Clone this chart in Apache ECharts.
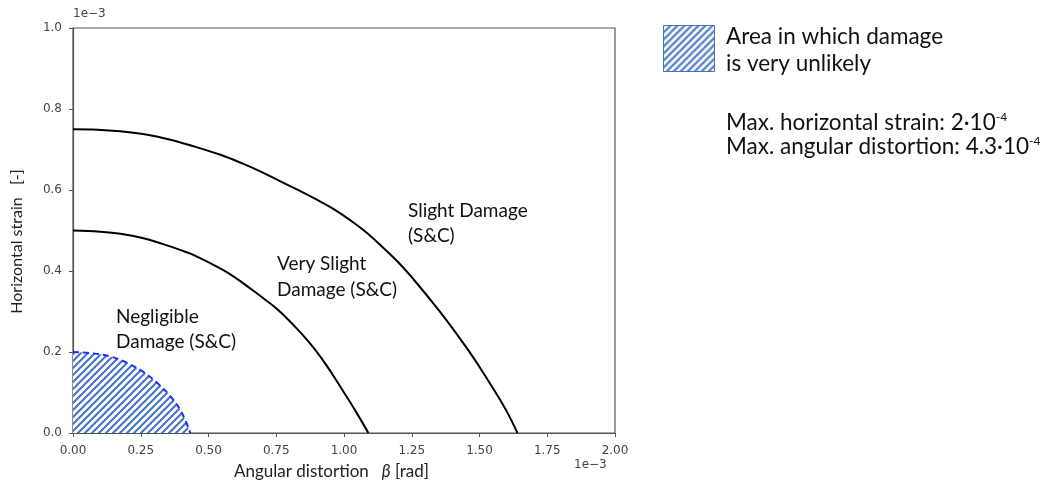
<!DOCTYPE html>
<html>
<head>
<meta charset="utf-8">
<script src="https://cdn.jsdelivr.net/npm/echarts@6/dist/echarts.min.js"></script>
<style>
  html, body { margin: 0; padding: 0; background: #fff; }
  #chart { width: 1050px; height: 482px; }
</style>
</head>
<body>
<div id="chart"></div>
<script>
// values are in units of 1e-3 (the axes show "1e−3")
var slightCurve = [[0, 0.75], [0.09, 0.749], [0.175, 0.745], [0.27, 0.737], [0.359, 0.724], [0.45, 0.707],
    [0.544, 0.687], [0.62, 0.667], [0.691, 0.646], [0.76, 0.623], [0.839, 0.597], [0.9, 0.576], [0.962, 0.553],
    [1.02, 0.527], [1.085, 0.494], [1.15, 0.454], [1.208, 0.416], [1.257, 0.379], [1.331, 0.319], [1.38, 0.277],
    [1.454, 0.209], [1.503, 0.16], [1.552, 0.108], [1.6, 0.054], [1.64, 0]];
var verySlightCurve = [[0, 0.5], [0.1, 0.497], [0.175, 0.492], [0.26, 0.481], [0.33, 0.467], [0.4, 0.451],
    [0.45, 0.438], [0.55, 0.404], [0.6, 0.383], [0.66, 0.354], [0.7, 0.334], [0.76, 0.302], [0.82, 0.262],
    [0.87, 0.225], [0.92, 0.182], [0.96, 0.142], [1.0, 0.1], [1.05, 0.046], [1.09, 0]];
var negligibleCurve = [[0, 0.2], [0.07, 0.197], [0.138, 0.189], [0.2, 0.173], [0.261, 0.15], [0.31, 0.124],
    [0.359, 0.091], [0.4, 0.052], [0.433, 0]];
var xTicks = ['0.00', '0.25', '0.50', '0.75', '1.00', '1.25', '1.50', '1.75', '2.00'];
var yTicks = ['0.0', '0.2', '0.4', '0.6', '0.8', '1.0'];

var calibri = 'Lato, "Open Sans", sans-serif';

// hatch pattern ////
function makeHatch(size, color, lw) {
    var c = document.createElement('canvas');
    c.width = size; c.height = size;
    var ctx = c.getContext('2d');
    ctx.fillStyle = '#fff';
    ctx.fillRect(0, 0, size, size);
    ctx.strokeStyle = color;
    ctx.lineWidth = lw;
    ctx.beginPath();
    ctx.moveTo(-1, size + 1); ctx.lineTo(size + 1, -1);
    ctx.moveTo(-2, 2); ctx.lineTo(2, -2);
    ctx.moveTo(size - 2, size + 2); ctx.lineTo(size + 2, size - 2);
    ctx.stroke();
    return c;
}
var hatch = makeHatch(7, '#4472c4', 2);

var myChart = echarts.init(document.getElementById('chart'));

option = {
    animation: false,
    grid: {
        left: 73,
        top: 28,
        width: 542,
        height: 405,
        outerBoundsMode: 'none',
        containLabel: false,
        show: true,
        borderColor: '#555',
        borderWidth: 1.2,
        backgroundColor: 'transparent'
    },
    xAxis: {
        type: 'value',
        min: 0,
        max: 2,
        interval: 0.25,
        splitLine: { show: false },
        axisLine: { show: true, lineStyle: { color: '#555', width: 1.2 } },
        axisTick: { show: true, length: 4, lineStyle: { color: '#555' } },
        axisLabel: {
            color: '#444', fontFamily: 'DejaVu Sans', fontSize: 12, margin: 12,
            formatter: function (v) { return xTicks[Math.round(v / 0.25)]; }
        },
        name: '{a|Angular distortion   }{b|β}{a| [rad]}',
        nameLocation: 'middle',
        nameGap: 30,
        nameTextStyle: {
            padding: [0, 25, 0, 0],
            rich: {
                a: { fontFamily: calibri, fontSize: 17, color: '#222' },
                b: { fontFamily: calibri, fontSize: 17, color: '#222', fontStyle: 'italic' }
            }
        }
    },
    yAxis: {
        type: 'value',
        min: 0,
        max: 1,
        interval: 0.2,
        splitLine: { show: false },
        axisLine: { show: true, lineStyle: { color: '#555', width: 1.2 } },
        axisTick: { show: true, length: 4, lineStyle: { color: '#555' } },
        axisLabel: {
            color: '#444', fontFamily: 'DejaVu Sans', fontSize: 12, margin: 11,
            formatter: function (v) { return yTicks[Math.round(v / 0.2)]; }
        },
        name: 'Horizontal strain   [-]',
        nameLocation: 'middle',
        nameGap: 48,
        nameTextStyle: { fontFamily: calibri, fontSize: 16, color: '#222', padding: [0, 22, 0, 0] }
    },
    series: [
        {
            name: 'Slight Damage',
            type: 'line',
            data: slightCurve,
            smooth: 0.4,
            showSymbol: false,
            lineStyle: { color: '#000', width: 2 }
        },
        {
            name: 'Very Slight Damage',
            type: 'line',
            data: verySlightCurve,
            smooth: 0.4,
            showSymbol: false,
            lineStyle: { color: '#000', width: 2 }
        },
        {
            name: 'Negligible Damage',
            type: 'line',
            data: negligibleCurve,
            smooth: 0.4,
            showSymbol: false,
            z: 3,
            lineStyle: { color: '#1f2bff', width: 2, type: [6, 4] },
            areaStyle: { color: { image: hatch, repeat: 'repeat' }, opacity: 1 }
        }
    ],
    graphic: [
        // offset labels of matplotlib
        { type: 'text', left: 73, top: 8, style: { text: '1e−3', font: '12px "DejaVu Sans"', fill: '#444' } },
        { type: 'text', left: 574, top: 459, style: { text: '1e−3', font: '12px "DejaVu Sans"', fill: '#444' } },
        // region labels
        { type: 'text', left: 408, top: 198, style: { text: 'Slight Damage\n(S&C)', font: '19px ' + calibri, fill: '#111', lineHeight: 25 } },
        { type: 'text', left: 277, top: 251, style: { text: 'Very Slight\nDamage (S&C)', font: '19px ' + calibri, fill: '#111', lineHeight: 26 } },
        { type: 'text', left: 116, top: 304, style: { text: 'Negligible\nDamage (S&C)', font: '19px ' + calibri, fill: '#111', lineHeight: 25 } },
        // legend on the right
        {
            type: 'rect', left: 663, top: 25,
            shape: { width: 51, height: 46 },
            style: { fill: { image: hatch, repeat: 'repeat' }, stroke: '#4472c4', lineWidth: 1 }
        },
        { type: 'text', left: 726, top: 23, style: { text: 'Area in which damage\nis very unlikely', font: '22.5px ' + calibri, fill: '#111', lineHeight: 27 } },
        {
            type: 'text', left: 726, top: 111,
            style: {
                text: 'Max. horizontal strain: 2·10{s|-4}\nMax. angular distortion: 4.3·10{s|-4}',
                font: '22.5px ' + calibri, fill: '#111', lineHeight: 24,
                rich: { s: { fontSize: 12, fontFamily: 'Lato', verticalAlign: 'top', lineHeight: 24, padding: [0, 0, 8, 0] } }
            }
        }
    ]
};

myChart.setOption(option);
</script>
</body>
</html>
